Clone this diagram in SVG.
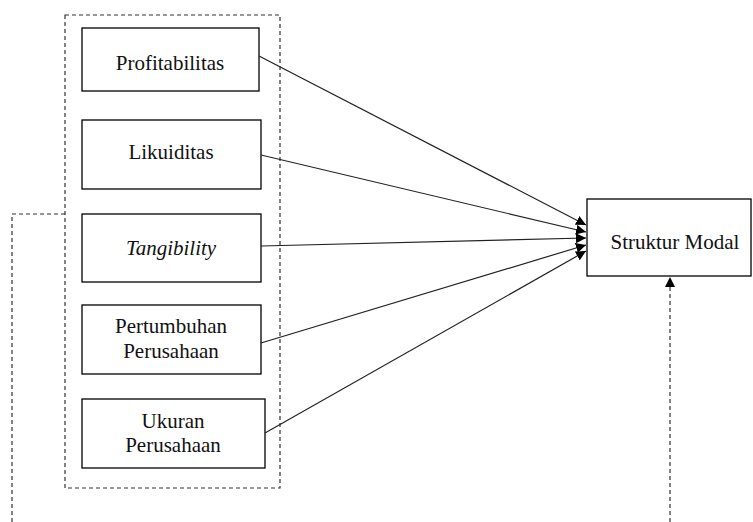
<svg xmlns="http://www.w3.org/2000/svg" width="753" height="522" viewBox="0 0 753 522">
<style>
.box{fill:#fff;stroke:#000;stroke-width:1.3}
.dash{fill:none;stroke:#333;stroke-width:1.2;stroke-dasharray:4,3}
.arr{fill:none;stroke:#222;stroke-width:1.2;marker-end:url(#ah)}
.t{font-family:'Liberation Serif','Times New Roman',serif;font-size:21px;fill:#111;text-anchor:middle}
</style>
<defs>
<marker id="ah" viewBox="0 0 10 10" refX="10" refY="5" markerWidth="10" markerHeight="10" markerUnits="userSpaceOnUse" orient="auto">
<path d="M0,0 L10,5 L0,10 z" fill="#000"/>
</marker>
</defs>
<rect width="753" height="522" fill="#fff"/>
<g id="group">
<rect class="dash" x="65" y="15" width="215" height="473"/>
</g>
<g id="profitabilitas"><rect class="box" x="82" y="28" width="177" height="63"/><text class="t" x="170" y="70">Profitabilitas</text></g>
<g id="likuiditas"><rect class="box" x="82" y="120" width="179" height="69"/><text class="t" x="171" y="159">Likuiditas</text></g>
<g id="tangibility"><rect class="box" x="82" y="214" width="179" height="68"/><text class="t" x="171" y="255" font-style="italic">Tangibility</text></g>
<g id="pertumbuhan"><rect class="box" x="82" y="305" width="179" height="69"/><text class="t" x="171" y="333">Pertumbuhan</text><text class="t" x="171" y="358">Perusahaan</text></g>
<g id="ukuran"><rect class="box" x="82" y="399" width="183" height="69"/><text class="t" x="173" y="428">Ukuran</text><text class="t" x="173" y="452">Perusahaan</text></g>
<g id="struktur"><rect class="box" x="587" y="199" width="164" height="77"/><text class="t" x="675" y="249">Struktur Modal</text></g>
<g id="connectors">
<line class="arr" x1="259" y1="56" x2="586" y2="225"/>
<line class="arr" x1="261" y1="155" x2="586" y2="232"/>
<line class="arr" x1="261" y1="246" x2="586" y2="238"/>
<line class="arr" x1="261" y1="343" x2="586" y2="245"/>
<line class="arr" x1="265" y1="433" x2="586" y2="251"/>
<polyline class="dash" points="65,214 12,214 12,522"/>
<line class="dash" x1="670" y1="522" x2="670" y2="286"/>
<path d="M665,287 L670,277 L675,287 z" fill="#000"/>
</g>
</svg>
